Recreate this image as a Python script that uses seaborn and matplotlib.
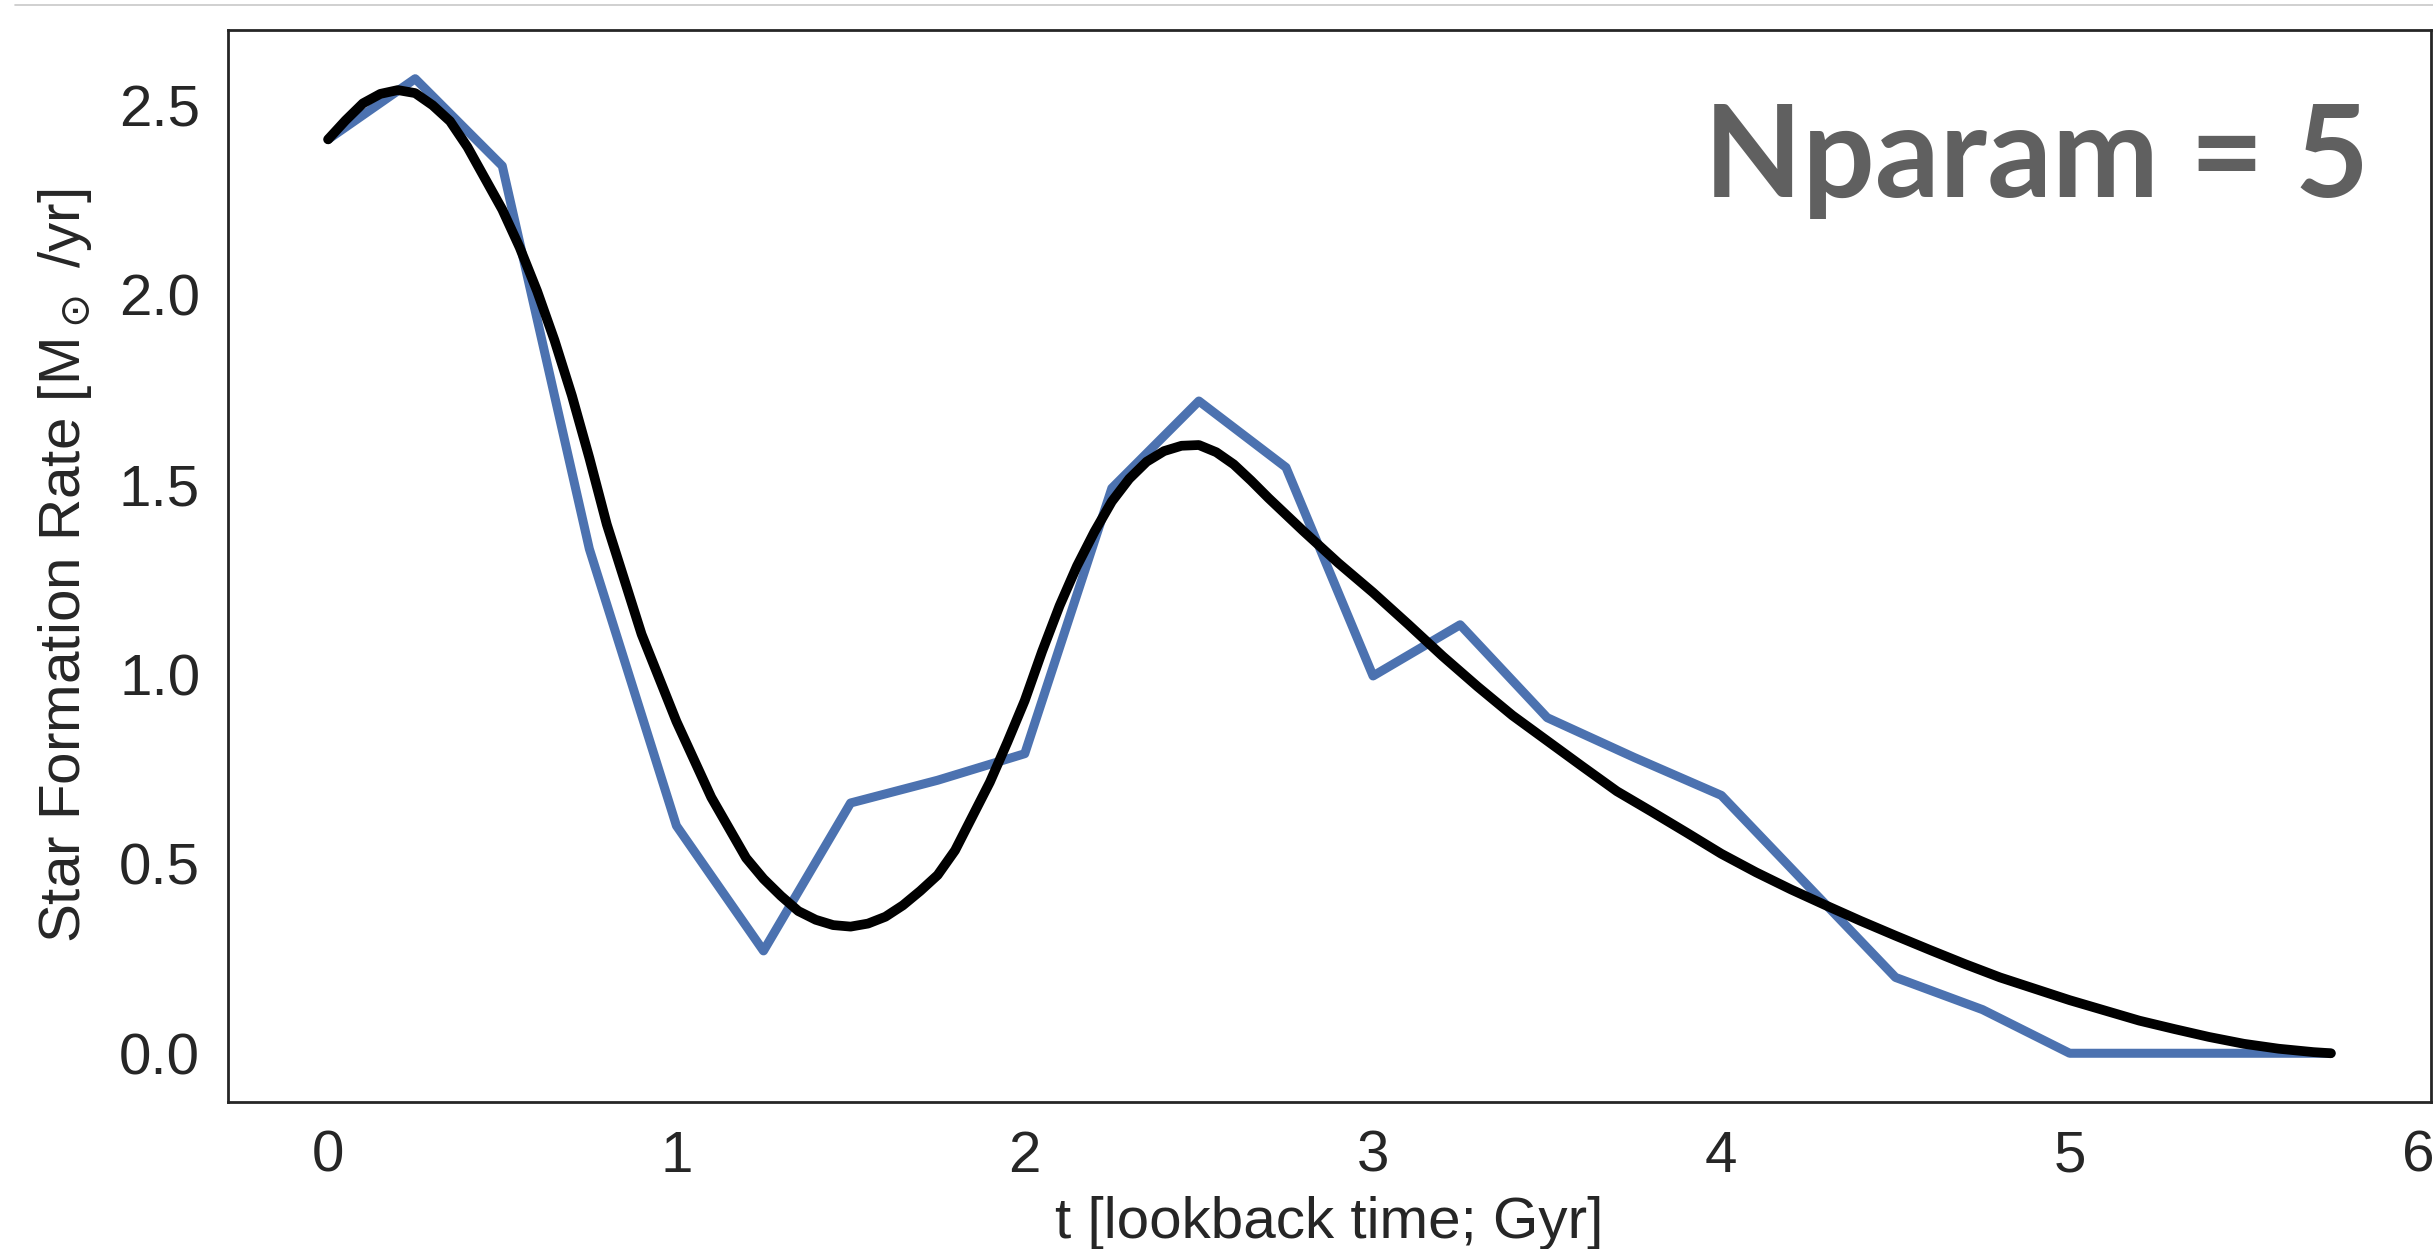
import matplotlib
matplotlib.use("Agg")
import matplotlib.pyplot as plt
import seaborn as sns
import pandas as pd

# binned star formation history (blue)
t_bins = [0.0, 0.25, 0.5, 0.75, 1.0, 1.25, 1.5, 1.75, 2.0, 2.25, 2.5, 2.75,
          3.0, 3.25, 3.5, 3.75, 4.0, 4.25, 4.5, 4.75, 5.0, 5.25, 5.5, 5.75]
sfr_bins = [2.41, 2.57, 2.34, 1.33, 0.60, 0.27, 0.66, 0.72, 0.79, 1.49, 1.72, 1.545,
            0.995, 1.13, 0.885, 0.78, 0.68, 0.44, 0.20, 0.115, 0.0, 0.0, 0.0, 0.0]

# smooth 5-parameter fit (black), denser where it bends
t_fit = [0.0, 0.05, 0.1, 0.15, 0.2, 0.25, 0.3, 0.35, 0.4, 0.5,
         0.55, 0.6, 0.65, 0.7, 0.75, 0.8, 0.9, 1.0, 1.1, 1.2,
         1.25, 1.3, 1.35, 1.4, 1.45, 1.5, 1.55, 1.6, 1.65, 1.7,
         1.75, 1.8, 1.9, 1.95, 2.0, 2.05, 2.1, 2.15, 2.2, 2.25,
         2.3, 2.35, 2.4, 2.45, 2.5, 2.55, 2.6, 2.65, 2.7, 2.8,
         2.9, 3.0, 3.1, 3.2, 3.3, 3.4, 3.5, 3.6, 3.7, 3.8,
         3.9, 4.0, 4.1, 4.2, 4.3, 4.4, 4.5, 4.6, 4.7, 4.8,
         4.9, 5.0, 5.1, 5.2, 5.3, 5.4, 5.5, 5.6, 5.7, 5.75]
sfr_fit = [2.41, 2.46, 2.505, 2.53, 2.54, 2.532, 2.50, 2.458, 2.39, 2.225,
           2.125, 2.01, 1.88, 1.734, 1.57, 1.395, 1.105, 0.875, 0.675, 0.515,
           0.46, 0.415, 0.375, 0.352, 0.338, 0.334, 0.342, 0.36, 0.39, 0.428,
           0.47, 0.535, 0.715, 0.82, 0.93, 1.06, 1.18, 1.285, 1.375, 1.455,
           1.515, 1.56, 1.588, 1.602, 1.604, 1.585, 1.553, 1.51, 1.464, 1.377,
           1.293, 1.215, 1.132, 1.047, 0.967, 0.891, 0.824, 0.757, 0.691, 0.637,
           0.582, 0.526, 0.477, 0.432, 0.39, 0.349, 0.31, 0.272, 0.235, 0.20,
           0.17, 0.14, 0.113, 0.086, 0.064, 0.043, 0.025, 0.012, 0.003, 0.0]

n_param = 5

df_bins = pd.DataFrame({"t": t_bins, "sfr": sfr_bins})
df_fit = pd.DataFrame({"t": t_fit, "sfr": sfr_fit})

sns.set_style("white")
plt.rcParams["font.family"] = ["Liberation Sans", "DejaVu Sans"]

fig = plt.figure(figsize=(24.33, 12.49), dpi=100)
ax = fig.add_axes([0.0937, 0.1177, 0.9055, 0.8583])

sns.lineplot(data=df_bins, x="t", y="sfr", color="#4c72b0", linewidth=6.5,
             estimator=None, ax=ax)
sns.lineplot(data=df_fit, x="t", y="sfr", color="black", linewidth=7,
             estimator=None, ax=ax)

ax.set_xlabel("t [lookback time; Gyr]", fontsize=42, color=".15", labelpad=8.5)
ax.set_ylabel(r"Star Formation Rate [M$_\odot$ /yr]", fontsize=42, color=".15",
              labelpad=18)
ax.tick_params(axis="both", labelsize=42, pad=20, length=0, colors=".15")
ax.set_xticks([0, 1, 2, 3, 4, 5, 6])
ax.set_yticks([0.0, 0.5, 1.0, 1.5, 2.0, 2.5])

for side in ["left", "right", "top", "bottom"]:
    ax.spines[side].set_visible(True)
    ax.spines[side].set_color(".15")
    ax.spines[side].set_linewidth(2.0)

ax.text(0.972, 0.8444, f"Nparam = {n_param}", transform=ax.transAxes,
        ha="right", va="baseline", fontsize=92, fontweight="bold",
        color="#606060", family=["Lato", "DejaVu Sans"])

# thin grey rule along the top of the picture
fig.add_artist(plt.Line2D([15 / 2433, 1.0], [1 - 5 / 1249, 1 - 5 / 1249],
                          transform=fig.transFigure, color="#c8c8c8", linewidth=1.2))

fig.savefig("out.png", dpi=100)
